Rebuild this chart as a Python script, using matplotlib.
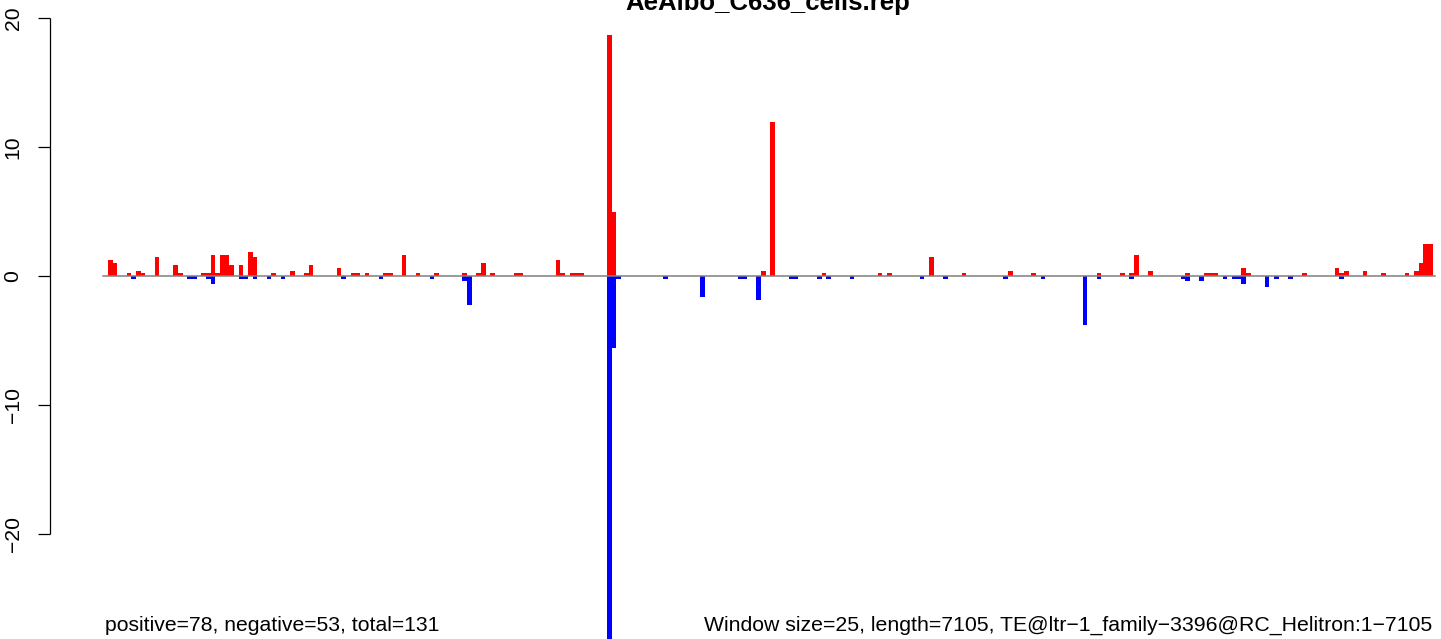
import matplotlib
matplotlib.use("Agg")
import matplotlib.pyplot as plt

# ---------------- data ----------------
title = "AeAlbo_C636_cells.rep"
n_windows = 284
left_note = "positive=78, negative=53, total=131"
right_note = "Window size=25, length=7105, TE@ltr\u22121_family\u22123396@RC_Helitron:1\u22127105"
yticks = [-20, -10, 0, 10, 20]

pos_idx = [0, 1, 4, 6, 7, 10, 14, 15, 20, 21, 22, 23, 24, 25, 26, 28, 30, 31, 35, 39, 42, 43,
           49, 52, 53, 55, 59, 60, 63, 66, 70, 76, 79, 80, 82, 87, 88,
           96, 97, 99, 100, 101, 107, 108, 140, 142,
           153, 165, 167, 176, 183,
           193, 198, 212, 217, 219, 220, 223, 231, 235, 236, 237,
           243, 244, 256, 263, 264, 265, 269, 273, 278, 280, 281, 282, 283]
pos_val = [1.24, 1.03, 0.21, 0.41, 0.21, 1.44, 0.82, 0.21, 0.21, 0.21, 1.65, 0.21, 1.65, 1.65, 0.82, 0.82, 1.86, 1.44, 0.21, 0.41, 0.21, 0.82,
           0.62, 0.21, 0.21, 0.21, 0.21, 0.21, 1.65, 0.21, 0.21, 0.21, 0.21, 1.03, 0.21, 0.21, 0.21,
           1.24, 0.21, 0.21, 0.21, 0.21, 18.7, 4.95, 0.41, 11.95,
           0.21, 0.21, 0.21, 1.44, 0.21,
           0.41, 0.21, 0.21, 0.21, 0.21, 1.65, 0.41, 0.21, 0.21, 0.21, 0.21,
           0.62, 0.21, 0.21, 0.62, 0.21, 0.41, 0.41, 0.21, 0.21, 0.41, 1.03, 2.47, 2.47]

neg_idx = [5, 17, 18, 21, 22, 28, 29, 31, 34, 37,
           50, 58, 69, 76, 77,
           107, 108, 109, 119, 127, 135, 136, 139,
           146, 147, 152, 154, 159, 174, 179, 192,
           200, 209, 212, 219, 230, 231, 234, 239,
           241, 242, 243, 248, 250, 253, 264]
neg_val = [-0.21, -0.21, -0.21, -0.21, -0.62, -0.21, -0.21, -0.21, -0.21, -0.21,
           -0.21, -0.21, -0.21, -0.41, -2.27,
           -28.8, -5.56, -0.21, -0.21, -1.65, -0.21, -0.21, -1.86,
           -0.21, -0.21, -0.21, -0.21, -0.21, -0.21, -0.21, -0.21,
           -0.21, -3.8, -0.21, -0.21, -0.21, -0.41, -0.41, -0.21,
           -0.21, -0.21, -0.62, -0.82, -0.21, -0.21, -0.21]

# ---------------- layout ----------------
W, H, DPI = 1441, 639, 100
fig = plt.figure(figsize=(W / DPI, H / DPI), dpi=DPI)
ax = fig.add_axes([0, 0, 1, 1])

x0_px, pitch_px = 108.0, 4.664
y0_px, unit_px = 276.0, 12.9

def px_to_x(px):
    return (px - x0_px) / pitch_px

def py_to_y(py):
    return (y0_px - py) / unit_px

ax.set_xlim(px_to_x(0), px_to_x(W))
ax.set_ylim(py_to_y(H), py_to_y(0))
ax.axis("off")

FONT = "Liberation Sans"

ax.bar(pos_idx, pos_val, width=1.0, align="edge", color="#FF0000", linewidth=0,
       antialiased=False, zorder=2)
ax.bar(neg_idx, neg_val, width=1.0, align="edge", color="#0000FF", linewidth=0,
       antialiased=False, zorder=2)

# zero line
ax.plot([px_to_x(103), px_to_x(1435)], [0, 0], color="#808080", lw=1.1, zorder=3)

# y axis
ax_x = px_to_x(50)
tick_x = px_to_x(38)
ax.plot([ax_x, ax_x], [min(yticks), max(yticks)], color="black", lw=0.9,
        clip_on=False, solid_capstyle="butt", zorder=4)
for t in yticks:
    ax.plot([tick_x, ax_x], [t, t], color="black", lw=0.9, clip_on=False,
            solid_capstyle="butt", zorder=4)
    lab = str(t).replace("-", "\u2212")
    ax.text(px_to_x(13), t, lab, rotation=90, ha="center", va="center",
            fontsize=15.2, family=FONT)

# title (partly outside the top edge, as in the reference)
fig.text(768 / W, 1 - 10 / H, title, ha="center", va="baseline",
         fontsize=18.5, fontweight="bold", family=FONT)

# bottom notes
fig.text(105 / W, 1 - 631 / H, left_note, ha="left", va="baseline",
         fontsize=15.2, family=FONT)
fig.text(1432 / W, 1 - 631 / H, right_note, ha="right", va="baseline",
         fontsize=15.3, family=FONT)

fig.savefig("out.png", dpi=DPI)
